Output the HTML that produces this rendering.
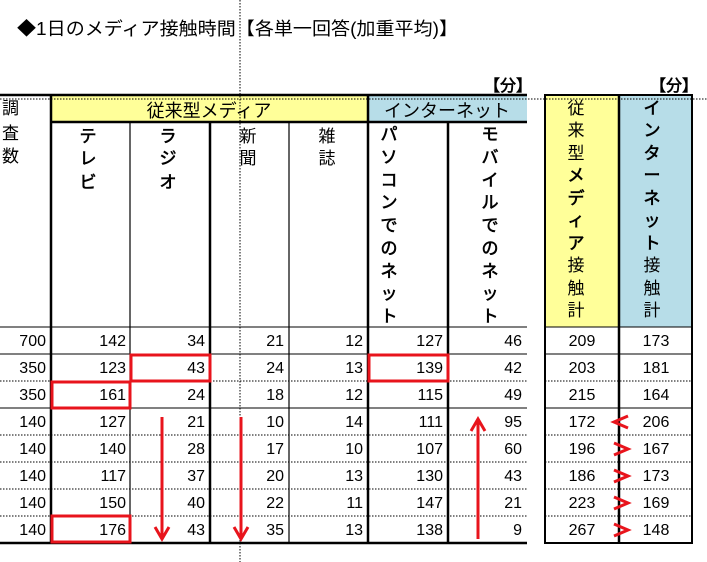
<!DOCTYPE html>
<html><head><meta charset="utf-8"><style>
html,body{margin:0;padding:0;background:#fff;}
svg{display:block;}
text{font-family:"Liberation Sans","Noto Sans CJK JP",sans-serif;fill:#000;}
.n{font-size:16px;}
.h{font-size:17px;}
.b{stroke:#000;stroke-width:0.6;}
</style></head><body>
<svg width="707" height="562" viewBox="0 0 707 562" xmlns="http://www.w3.org/2000/svg">
<text x="17" y="35" font-size="18" textLength="441" lengthAdjust="spacingAndGlyphs">◆1日のメディア接触時間【各単一回答(加重平均)】</text>
<text x="484" y="91" font-size="16" class="b">【分】</text>
<text x="650" y="91" font-size="16" class="b">【分】</text>
<rect x="51" y="95" width="317" height="27" fill="#ffff99"/>
<rect x="368" y="95" width="159" height="27" fill="#b7dde8"/>
<rect x="545" y="95" width="74" height="232" fill="#ffff99"/>
<rect x="619" y="95" width="73" height="232" fill="#b7dde8"/>
<g stroke="#000" fill="none">
<line x1="0" y1="95" x2="527" y2="95" stroke-width="2.5"/>
<line x1="51" y1="122" x2="527" y2="122" stroke-width="2.5"/>
<line x1="0" y1="327" x2="527" y2="327" stroke-width="1"/>
<line x1="0" y1="354" x2="527" y2="354" stroke-width="1"/>
<line x1="0" y1="408" x2="527" y2="408" stroke-width="1"/>
<line x1="0" y1="543" x2="527" y2="543" stroke-width="2.5"/>
<g stroke-dasharray="1.5,1.5" stroke-width="1">
<line x1="0" y1="381" x2="527" y2="381"/>
<line x1="0" y1="435" x2="527" y2="435"/>
<line x1="0" y1="462" x2="527" y2="462"/>
<line x1="0" y1="489" x2="527" y2="489"/>
<line x1="0" y1="516" x2="527" y2="516"/>
</g>
<line x1="51" y1="95" x2="51" y2="543" stroke-width="2.5"/>
<line x1="130" y1="122" x2="130" y2="543" stroke-width="1.2"/>
<line x1="210" y1="122" x2="210" y2="543" stroke-width="2.5"/>
<line x1="289" y1="122" x2="289" y2="543" stroke-width="1.2"/>
<line x1="368" y1="95" x2="368" y2="543" stroke-width="2.5"/>
<line x1="448" y1="122" x2="448" y2="543" stroke-width="2.5"/>
<rect x="545" y="95" width="147" height="448" stroke-width="2"/>
<line x1="619" y1="95" x2="619" y2="543" stroke-width="2.5"/>
<line x1="545" y1="327" x2="692" y2="327" stroke-width="1"/>
<line x1="545" y1="354" x2="692" y2="354" stroke-width="1"/>
<line x1="545" y1="408" x2="692" y2="408" stroke-width="1"/>
<g stroke-dasharray="1.5,1.5" stroke-width="1">
<line x1="545" y1="381" x2="692" y2="381"/>
<line x1="545" y1="435" x2="692" y2="435"/>
<line x1="545" y1="462" x2="692" y2="462"/>
<line x1="545" y1="489" x2="692" y2="489"/>
<line x1="545" y1="516" x2="692" y2="516"/>
<line x1="0" y1="99" x2="707" y2="99"/>
<line x1="240" y1="0" x2="240" y2="562"/>
</g>
</g>
<text x="209" y="117" font-size="18" text-anchor="middle">従来型メディア</text>
<text x="447" y="117" font-size="18" text-anchor="middle">インターネット</text>
<g class="h">
<text x="2" y="114">調</text><text x="2" y="139">査</text><text x="2" y="162">数</text>
</g>
<g class="h b" text-anchor="middle">
<text x="88" y="142">テ</text><text x="88" y="164">レ</text><text x="88" y="188">ビ</text>
<text x="168" y="142">ラ</text><text x="168" y="164">ジ</text><text x="168" y="188">オ</text>
</g>
<g class="h" text-anchor="middle">
<text x="248" y="142">新</text><text x="248" y="164">聞</text>
<text x="327" y="142">雑</text><text x="327" y="164">誌</text>
</g>
<g class="h b" text-anchor="middle">
<text x="389" y="140">パ</text><text x="389" y="163">ソ</text><text x="389" y="186">コ</text><text x="389" y="208">ン</text><text x="389" y="231">で</text><text x="389" y="254">の</text><text x="389" y="277">ネ</text><text x="389" y="299">ッ</text><text x="389" y="322">ト</text>
<text x="490" y="140">モ</text><text x="490" y="163">バ</text><text x="490" y="186">イ</text><text x="490" y="208">ル</text><text x="490" y="231">で</text><text x="490" y="254">の</text><text x="490" y="277">ネ</text><text x="490" y="299">ッ</text><text x="490" y="322">ト</text>
</g>
<g class="h" text-anchor="middle">
<text x="576" y="114">従</text><text x="576" y="136">来</text><text x="576" y="159">型</text><text x="576" y="181" class="b">メ</text><text x="576" y="204" class="b">デ</text><text x="576" y="226" class="b">ィ</text><text x="576" y="249" class="b">ア</text><text x="576" y="271">接</text><text x="576" y="294">触</text><text x="576" y="316">計</text>
<text x="652" y="114" class="b">イ</text><text x="652" y="136" class="b">ン</text><text x="652" y="159" class="b">タ</text><text x="652" y="181" class="b">ー</text><text x="652" y="204" class="b">ネ</text><text x="652" y="226" class="b">ッ</text><text x="652" y="249" class="b">ト</text><text x="652" y="271">接</text><text x="652" y="294">触</text><text x="652" y="316">計</text>
</g>
<g class="n" text-anchor="end">
<text x="46" y="346">700</text><text x="126" y="346">142</text><text x="205" y="346">34</text><text x="284" y="346">21</text><text x="363" y="346">12</text><text x="443" y="346">127</text><text x="522" y="346">46</text>
<text x="46" y="373">350</text><text x="126" y="373">123</text><text x="205" y="373">43</text><text x="284" y="373">24</text><text x="363" y="373">13</text><text x="443" y="373">139</text><text x="522" y="373">42</text>
<text x="46" y="400">350</text><text x="126" y="400">161</text><text x="205" y="400">24</text><text x="284" y="400">18</text><text x="363" y="400">12</text><text x="443" y="400">115</text><text x="522" y="400">49</text>
<text x="46" y="427">140</text><text x="126" y="427">127</text><text x="205" y="427">21</text><text x="284" y="427">10</text><text x="363" y="427">14</text><text x="443" y="427">111</text><text x="522" y="427">95</text>
<text x="46" y="454">140</text><text x="126" y="454">140</text><text x="205" y="454">28</text><text x="284" y="454">17</text><text x="363" y="454">10</text><text x="443" y="454">107</text><text x="522" y="454">60</text>
<text x="46" y="481">140</text><text x="126" y="481">117</text><text x="205" y="481">37</text><text x="284" y="481">20</text><text x="363" y="481">13</text><text x="443" y="481">130</text><text x="522" y="481">43</text>
<text x="46" y="508">140</text><text x="126" y="508">150</text><text x="205" y="508">40</text><text x="284" y="508">22</text><text x="363" y="508">11</text><text x="443" y="508">147</text><text x="522" y="508">21</text>
<text x="46" y="535">140</text><text x="126" y="535">176</text><text x="205" y="535">43</text><text x="284" y="535">35</text><text x="363" y="535">13</text><text x="443" y="535">138</text><text x="522" y="535">9</text>
</g>
<g class="n" text-anchor="middle">
<text x="582" y="346">209</text><text x="656" y="346">173</text>
<text x="582" y="373">203</text><text x="656" y="373">181</text>
<text x="582" y="400">215</text><text x="656" y="400">164</text>
<text x="582" y="427">172</text><text x="656" y="427">206</text>
<text x="582" y="454">196</text><text x="656" y="454">167</text>
<text x="582" y="481">186</text><text x="656" y="481">173</text>
<text x="582" y="508">223</text><text x="656" y="508">169</text>
<text x="582" y="535">267</text><text x="656" y="535">148</text>
</g>
<g stroke="#e8141c" fill="none" stroke-width="3">
<rect x="131" y="355" width="79" height="26"/>
<rect x="52" y="382" width="78" height="26"/>
<rect x="52" y="516" width="78" height="26"/>
<rect x="369" y="355" width="79" height="26"/>
<line x1="162" y1="417" x2="162" y2="539"/><polyline points="155,527 162,539 169,527"/>
<line x1="241" y1="417" x2="241" y2="539"/><polyline points="234,527 241,539 248,527"/>
<line x1="478" y1="539" x2="478" y2="419"/><polyline points="471,431 478,419 485,431"/>
<polyline points="628,416 614,422 628,428"/>
<polyline points="614,443 628,449 614,455"/>
<polyline points="614,470 628,476 614,482"/>
<polyline points="614,497 628,503 614,509"/>
<polyline points="614,524 628,530 614,536"/>
</g>
</svg>
</body></html>
